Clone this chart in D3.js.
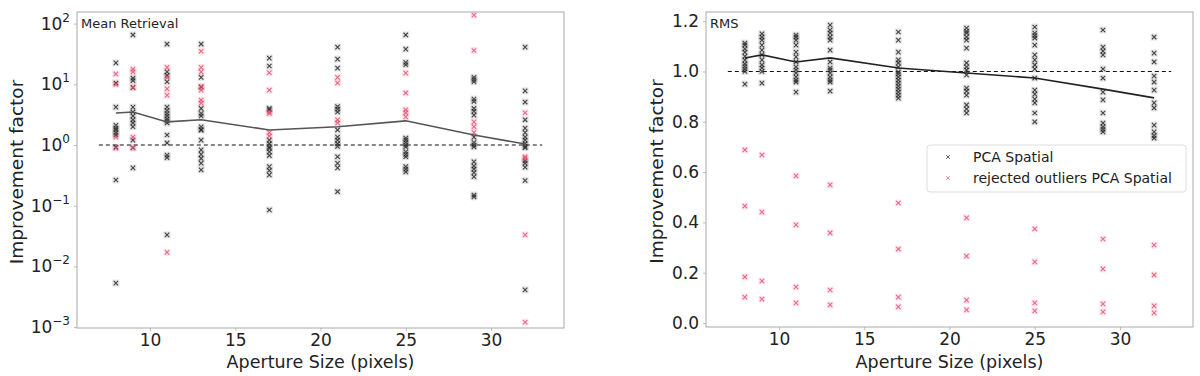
<!DOCTYPE html>
<html><head><meta charset="utf-8">
<script src="https://cdn.jsdelivr.net/npm/d3@7"></script>
<style>
body{margin:0;background:#fff;}
text{font-family:"DejaVu Sans",sans-serif;fill:#222;}
</style></head>
<body><svg id="c" width="1200" height="376"></svg>
<script>
const apertures = [8, 9, 11, 13, 17, 21, 25, 29, 32];
const xTicks = [10, 15, 20, 25, 30];

// Panel 1: Mean Retrieval (log scale)
const meanMean = [3.37, 3.5, 2.4, 2.6, 1.77, 2.0, 2.5, 1.46, 1.04];
const meanPCA = [
  [22.5, 10.5, 4.2, 2.1, 1.9, 1.77, 1.6, 1.46, 0.92, 0.265, 0.0053],
  [65, 12.6, 11.5, 8.8, 4.2, 3.5, 3.0, 2.6, 2.3, 2.0, 1.2, 0.9, 0.42],
  [46, 16, 14, 11, 4.2, 3.7, 3.3, 3.0, 2.7, 2.5, 2.3, 1.46, 1.08, 0.68, 0.62, 0.033],
  [46, 13, 9, 4, 3.3, 3.0, 2.0, 1.8, 1.76, 1.2, 0.83, 0.7, 0.6, 0.5, 0.39],
  [27, 20, 4, 3.8, 1.2, 1.05, 0.93, 0.88, 0.77, 0.67, 0.44, 0.38, 0.32, 0.085],
  [41, 26, 18.5, 4.3, 3.9, 3.5, 1.77, 1.35, 1.2, 1.05, 0.95, 0.64, 0.5, 0.42, 0.17],
  [65, 38, 23, 21, 1.3, 1.2, 1.1, 1.0, 0.93, 0.77, 0.7, 0.64, 0.44, 0.4, 0.36],
  [13, 12, 11, 5.7, 5.2, 4, 3.6, 3.1, 1.35, 1.1, 1.0, 0.93, 0.53, 0.45, 0.4, 0.35, 0.3, 0.15, 0.14],
  [41, 7.8, 5.1, 2.6, 1.9, 1.6, 1.35, 1.2, 1.05, 0.95, 0.9, 0.55, 0.5, 0.43, 0.26, 0.0041]
];
const meanRejected = [
  [14.8, 10.0, 1.35, 0.89],
  [17.8, 16, 9, 1.35, 0.9],
  [19, 13, 8.4, 6.6, 0.017],
  [35, 19, 16, 9.2, 8, 5.5, 4.9],
  [15.5, 8, 3.5, 3.3, 1.6, 1.4],
  [13, 10.5, 2.6, 2.3],
  [15.3, 7.2, 3.8, 3.4, 2.9],
  [138, 36, 2.4, 2.0, 1.6],
  [3.4, 0.64, 0.6, 0.033, 0.0012]
];
const meanYTicks = [1e-3, 1e-2, 1e-1, 1e0, 1e1, 1e2];

// Panel 2: RMS (linear scale)
const rmsMean = [1.054, 1.066, 1.038, 1.054, 1.014, 0.994, 0.974, 0.93, 0.895];
const rmsPCA = [
  [1.113, 1.105, 1.09, 1.077, 1.06, 1.045, 1.03, 1.02, 1.01, 1.0, 0.95],
  [1.15, 1.137, 1.125, 1.105, 1.085, 1.066, 1.046, 1.026, 1.014, 1.0, 0.954],
  [1.145, 1.137, 1.125, 1.105, 1.077, 1.058, 1.038, 1.018, 1.006, 0.994, 0.978, 0.966, 0.958, 0.918],
  [1.185, 1.165, 1.153, 1.137, 1.125, 1.085, 1.038, 1.014, 1.006, 0.994, 0.978, 0.966, 0.958, 0.922],
  [1.157, 1.125, 1.077, 1.046, 1.034, 1.018, 0.998, 0.99, 0.978, 0.966, 0.954, 0.942, 0.93, 0.918, 0.906, 0.894],
  [1.173, 1.16, 1.153, 1.137, 1.125, 1.093, 1.034, 1.018, 1.006, 0.986, 0.934, 0.922, 0.906, 0.867, 0.851, 0.835],
  [1.177, 1.153, 1.143, 1.133, 1.105, 1.066, 1.046, 1.026, 1.01, 0.974, 0.926, 0.91, 0.89, 0.875, 0.835, 0.8],
  [1.165, 1.097, 1.081, 1.066, 1.01, 0.974, 0.918, 0.887, 0.835, 0.795, 0.78, 0.77, 0.76],
  [1.137, 1.073, 1.038, 0.982, 0.958, 0.926, 0.875, 0.855, 0.787, 0.76, 0.745, 0.735]
];
const rmsRejected = [
  [0.688, 0.465, 0.183, 0.103],
  [0.668, 0.441, 0.167, 0.095],
  [0.585, 0.39, 0.143, 0.08],
  [0.549, 0.358, 0.131, 0.072],
  [0.477, 0.294, 0.103, 0.064],
  [0.418, 0.266, 0.091, 0.052],
  [0.374, 0.243, 0.08, 0.048],
  [0.334, 0.215, 0.076, 0.044],
  [0.31, 0.191, 0.068, 0.04]
];
const rmsYTicks = [0.0, 0.2, 0.4, 0.6, 0.8, 1.0, 1.2];

const legendLabels = ["PCA Spatial", "rejected outliers PCA Spatial"];
const xLabel = "Aperture Size (pixels)";
const yLabel = "Improvement factor";

const svg = d3.select("#c");
const BLACK = "#1a1a1a", RED = "#e8476a";
const xPath = "M-2.2,-2.2L2.2,2.2M-2.2,2.2L2.2,-2.2";

function drawMarkers(g, x, y, data, color, halo) {
  const pts = [];
  apertures.forEach((a, i) => data[i].forEach(v => pts.push([a, v])));
  const m = g.append("g").selectAll("g").data(pts).join("g")
    .attr("transform", d => `translate(${x(d[0])},${y(d[1])})`);
  m.append("rect").attr("x", -3.5).attr("y", -3.5).attr("width", 7).attr("height", 7)
    .attr("fill", halo);
  m.append("path").attr("d", xPath).attr("stroke", color).attr("stroke-width", 1.1)
    .attr("fill", "none").attr("opacity", 0.8);
}

function panel(opts) {
  const {left, right, top, bottom, y, yTicks, yFmt, meanV, pca, rej, title, labelX, legend, lineColor} = opts;
  const x = d3.scaleLinear().domain([5.72, 34.28]).range([left, right]);
  const g = svg.append("g");

  // dashed reference at 1
  g.append("line").attr("x1", x(7)).attr("x2", x(33)).attr("y1", y(1)).attr("y2", y(1))
    .attr("stroke", "#111").attr("stroke-width", 1.2).attr("stroke-dasharray", "4,3");

  drawMarkers(g, x, y, pca, BLACK, "rgba(120,120,120,0.2)");
  drawMarkers(g, x, y, rej, RED, "rgba(232,71,106,0.13)");

  g.append("path").datum(apertures.map((a, i) => [a, meanV[i]]))
    .attr("d", d3.line().x(d => x(d[0])).y(d => y(d[1])))
    .attr("fill", "none").attr("stroke", lineColor).attr("stroke-width", 1.6);

  // axes
  const xa = g.append("g").attr("transform", `translate(0,${bottom})`)
    .call(d3.axisBottom(x).tickValues(xTicks).tickSize(3).tickPadding(3).tickFormat(d3.format("d")));
  xa.selectAll("text").attr("font-size", 17).style("fill", "#222");
  const ya = g.append("g").attr("transform", `translate(${left},0)`)
    .call(d3.axisLeft(y).tickValues(yTicks).tickSize(3).tickPadding(4).tickFormat(yFmt));
  ya.selectAll("text").attr("font-size", 17).style("fill", "#222");
  [xa, ya].forEach(a => {
    a.select(".domain").remove();
    a.selectAll(".tick line").attr("stroke", "#bbb");
  });
  if (opts.log) {
    ya.selectAll(".tick text").each(function(d) {
      const t = d3.select(this);
      const e = Math.round(Math.log10(d));
      t.text(null);
      t.append("tspan").text("10");
      t.append("tspan").attr("dy", -8).attr("font-size", 12)
        .text(e < 0 ? "\u2212" + (-e) : String(e));
    });
  }
  // frame
  g.append("rect").attr("x", left).attr("y", top).attr("width", right - left).attr("height", bottom - top)
    .attr("fill", "none").attr("stroke", "#aaa").attr("stroke-width", 1);

  g.append("text").attr("x", left + 4).attr("y", top + 16).attr("font-size", 13).text(title);
  g.append("text").attr("x", (left + right) / 2).attr("y", 368).attr("text-anchor", "middle")
    .attr("font-size", 17.5).text(xLabel);
  g.append("text").attr("transform", `translate(${labelX},${(top + bottom) / 2 + 2}) rotate(-90)`)
    .attr("text-anchor", "middle").attr("font-size", 18.5).text(yLabel);

  if (legend) {
    const lg = g.append("g").attr("transform", "translate(927,145)");
    lg.append("rect").attr("width", 259).attr("height", 47).attr("rx", 3)
      .attr("fill", "#fff").attr("stroke", "#ddd");
    [BLACK, RED].forEach((c, i) => {
      const yy = 12 + i * 21;
      lg.append("path").attr("d", "M-1.8,-1.8L1.8,1.8M-1.8,1.8L1.8,-1.8")
        .attr("transform", `translate(21,${yy})`).attr("stroke", c).attr("stroke-width", 1)
        .attr("opacity", 0.7).attr("fill", "none");
      lg.append("text").attr("x", 46).attr("y", yy + 5).attr("font-size", 14).text(legendLabels[i]);
    });
  }
}

panel({
  left: 77, right: 564, top: 12, bottom: 328,
  y: d3.scaleLog().domain([Math.pow(10, -3.015), Math.pow(10, 2.191)]).range([328, 12]),
  yTicks: meanYTicks, yFmt: d => String(d), log: true,
  meanV: meanMean, pca: meanPCA, rej: meanRejected, title: "Mean Retrieval",
  labelX: 23, legend: false, lineColor: "#555"
});
panel({
  left: 706, right: 1193, top: 12, bottom: 327,
  y: d3.scaleLinear().domain([-0.016, 1.2366]).range([327, 12]),
  yTicks: rmsYTicks, yFmt: d3.format(".1f"), log: false,
  meanV: rmsMean, pca: rmsPCA, rej: rmsRejected, title: "RMS",
  labelX: 663, legend: true, lineColor: "#222"
});
</script></body></html>
